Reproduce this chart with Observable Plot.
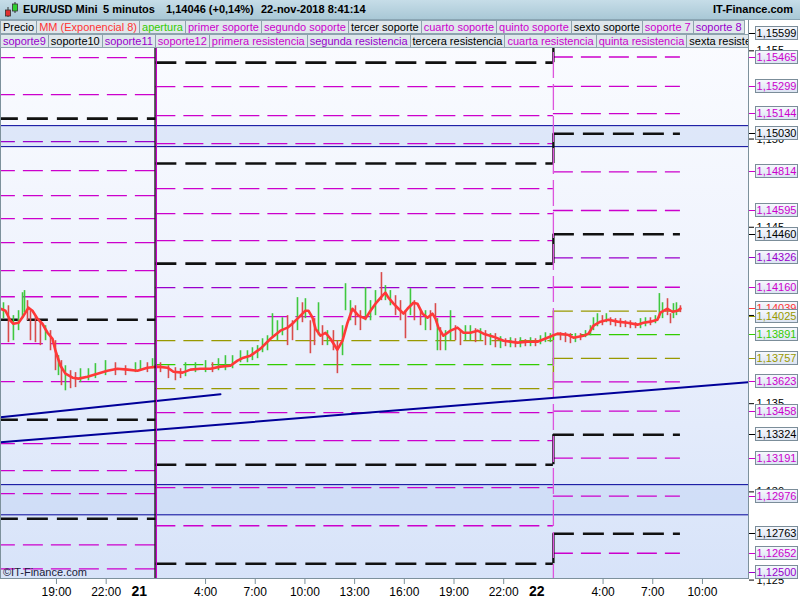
<!DOCTYPE html>
<html>
<head>
<meta charset="utf-8">
<script src="https://cdn.jsdelivr.net/npm/d3@7"></script>
<script src="https://cdn.jsdelivr.net/npm/@observablehq/plot@0.6"></script>
<style>
  html,body{margin:0;padding:0;background:#fff;}
  #wrap{position:relative;width:800px;height:600px;overflow:hidden;font-family:"Liberation Sans",Arial,sans-serif;background:#fff;}
  #bg{position:absolute;left:0;top:20px;width:748px;height:558px;background:linear-gradient(to bottom,#fbfcff 0%,#eff3fd 45%,#d7e3f9 100%);}
  #chart{position:absolute;left:0;top:20px;}
  #header{position:absolute;left:0;top:0;width:800px;height:20px;background:linear-gradient(to bottom,#c6dde8,#a9c8d6);border-bottom:1px solid #8aa5b3;box-sizing:border-box;}
  #header span{position:absolute;top:3px;font-size:11px;font-weight:bold;color:#000;white-space:nowrap;}
  .row{position:absolute;left:0;width:748px;height:14px;display:flex;overflow:hidden;background:#fff;}
  .row div{font-size:11px;line-height:12px;height:14px;box-sizing:border-box;padding:0 2px;border:1px solid #8ea3ae;border-left:none;background:#dfe7ec;white-space:nowrap;flex:none;}
  .row div:first-child{border-left:1px solid #8ea3ae;}
  .lab{position:absolute;left:755px;width:43px;height:14px;box-sizing:border-box;border:1px solid #7b8d99;background:linear-gradient(to bottom,#f6f8fd,#dce4f3);font-size:11px;line-height:12px;text-align:center;white-space:nowrap;}
  .ltick{position:absolute;left:749px;width:6px;height:1px;}
  #copy{position:absolute;left:3px;top:566px;font-size:11px;color:#1b1b3a;}
</style>
</head>
<body>
<div id="wrap">
  <div id="bg"></div>
  <div id="chart"></div>
  <div id="header">
    <svg style="position:absolute;left:4px;top:2px" width="16" height="16">
      <line x1="4" y1="5" x2="4" y2="15" stroke="#333"/><rect x="1.5" y="8" width="5" height="6" fill="#e03030" stroke="#333" stroke-width="0.8"/>
      <line x1="11" y1="0" x2="11" y2="11" stroke="#333"/><rect x="8.5" y="2" width="5" height="7" fill="#30d030" stroke="#333" stroke-width="0.8"/>
    </svg>
    <span style="left:23px">EUR/USD Mini</span>
    <span style="left:103px">5 minutos</span>
    <span style="left:166px">1,14046 (+0,14%)</span>
    <span style="left:261px">22-nov-2018 8:41:14</span>
    <span style="left:713px">IT-Finance.com</span>
  </div>
  <div class="row" id="row1" style="top:20px"></div>
  <div class="row" id="row2" style="top:34px"></div>
  <div id="copy">©IT-Finance.com</div>
</div>
<script>
// ---------- DATA ----------
// time: hours since 20-nov-2018 00:00
const viewStartHour = 15.62, viewEndHour = 60.78;
const sessionStartHours = [25.0, 49.0];   // level change (01:00)
const lastHour = 56.67;
const yDomain = [1.12509, 1.15672];

const hourTicks = [19, 22, 28, 31, 34, 37, 40, 43, 46, 52, 55, 58];
const hourTickLabels = ["19:00","22:00","4:00","7:00","10:00","13:00","16:00","19:00","22:00","4:00","7:00","10:00"];
const dayTicks = [24, 48];
const dayTickLabels = ["21", "22"];
const yTicks = [1.125, 1.130, 1.135, 1.140, 1.145, 1.150, 1.155];

const legendRow1 = ["Precio","MM (Exponencial 8)","apertura","primer soporte","segundo soporte","tercer soporte","cuarto soporte","quinto soporte","sexto soporte","soporte 7","soporte 8"];
const legendRow1Kind = ["k","r","g","m","m","k","m","m","k","m","p"];
const legendRow2 = ["soporte9","soporte10","soporte11","soporte12","primera resistencia","segunda resistencia","tercera resistencia","cuarta resistencia","quinta resistencia","sexta resistencia"];
const legendRow2Kind = ["p","k","p","m","m","p","k","m","m","k"];

// levels per session (k = black, m = magenta, p = purple, o = olive, g = apertura)
const levelsA = [1.15643,1.15462,1.15252,1.15116,1.14985,1.14821,1.14679,1.14549,1.14413,1.14254,1.14106,1.13976,1.13840,1.13625,1.13409,1.13273,1.13120,1.12990,1.12848,1.12700,1.12564];
const kindsA  = ["m","m","m","k","p","m","m","m","m","m","m","k","m","m","k","m","m","m","k","m","m"];
const levelsB = [1.15433,1.15297,1.15133,1.14974,1.14861,1.14719,1.14577,1.14424,1.14294,1.14158,1.13993,1.13857,1.13721,1.13585,1.13449,1.13290,1.13154,1.13024,1.12808,1.12593];
const kindsB  = ["k","m","m","m","k","m","m","m","k","p","m","o","g","o","m","m","k","m","m","k"];
const levelsC = [1.15599,1.15465,1.15299,1.15144,1.15030,1.14814,1.14595,1.14460,1.14326,1.14160,1.14025,1.13891,1.13757,1.13623,1.13458,1.13324,1.13191,1.12976,1.12763,1.12652,1.12500];
const kindsC  = ["k","m","m","m","k","m","m","k","p","m","o","g","o","m","m","k","m","m","k","m","p"];

// zones
const zoneLow  = [1.14957, 1.12870];
const zoneHigh = [1.15076, 1.13041];

// trend lines
const trend1Hours = [15.62, 28.90], trend1Values = [1.13423, 1.13554];
const trend2Hours = [15.62, 60.78], trend2Values = [1.13282, 1.13622];

// EMA 8
const emaHour = [15.62,15.92,16.22,16.40,16.71,17.01,17.31,17.55,17.85,18.15,18.46,18.76,18.94,19.24,19.54,19.97,20.33,20.87,21.47,22.08,22.68,23.29,23.89,24.49,25.10,25.70,26.06,26.61,27.09,27.69,28.30,28.90,29.50,29.93,30.29,30.71,31.32,31.92,32.52,32.95,33.31,33.73,34.03,34.21,34.46,34.64,34.94,35.24,35.54,35.96,36.27,36.57,36.87,37.23,37.65,37.96,38.26,38.68,38.86,39.04,39.35,39.65,39.95,40.25,40.55,40.79,41.10,41.40,41.70,41.88,42.06,42.36,42.79,43.21,43.57,43.99,44.42,44.78,45.38,45.99,46.83,47.44,48.04,48.64,49.25,49.85,50.21,50.82,51.12,51.42,51.84,52.32,52.87,53.47,54.08,54.44,54.86,55.28,55.46,55.89,56.19,56.49,56.67];
const emaValue = [1.14038,1.14027,1.13970,1.13953,1.13959,1.13999,1.14044,1.14027,1.13982,1.13953,1.13902,1.13868,1.13800,1.13715,1.13670,1.13647,1.13642,1.13653,1.13670,1.13687,1.13698,1.13693,1.13687,1.13704,1.13710,1.13704,1.13681,1.13676,1.13693,1.13698,1.13698,1.13710,1.13715,1.13744,1.13761,1.13772,1.13812,1.13868,1.13914,1.13931,1.13959,1.13999,1.14027,1.14027,1.13987,1.13925,1.13885,1.13902,1.13868,1.13806,1.13857,1.13959,1.14038,1.13999,1.13982,1.14027,1.14067,1.14112,1.14129,1.14101,1.14067,1.14038,1.14010,1.14044,1.14072,1.14067,1.14010,1.13987,1.14010,1.13982,1.13931,1.13885,1.13914,1.13931,1.13902,1.13902,1.13914,1.13897,1.13880,1.13857,1.13846,1.13851,1.13851,1.13874,1.13897,1.13891,1.13874,1.13885,1.13897,1.13942,1.13965,1.13976,1.13965,1.13959,1.13948,1.13959,1.13965,1.13976,1.14016,1.14038,1.14021,1.14027,1.14039];

// price bars
const barHour = [15.80,16.10,16.40,16.71,16.95,17.07,17.25,17.43,17.73,18.03,18.34,18.64,18.94,19.12,19.30,19.54,19.85,20.15,20.45,20.93,21.35,21.96,22.56,23.17,23.77,24.07,24.49,24.80,25.28,25.76,26.18,26.49,26.79,27.39,28.00,28.42,28.78,29.20,29.63,30.11,30.53,30.83,31.14,31.44,31.74,32.04,32.34,32.64,32.95,33.25,33.55,33.85,34.03,34.33,34.58,34.82,35.06,35.36,35.72,35.96,36.27,36.45,36.75,37.05,37.35,37.66,37.96,38.26,38.62,38.86,39.16,39.47,39.77,40.07,40.37,40.61,40.98,41.28,41.58,41.88,42.00,42.18,42.49,42.79,43.09,43.39,43.69,43.99,44.30,44.60,44.90,45.20,45.50,45.81,46.11,46.41,46.71,47.01,47.31,47.62,47.92,48.22,48.52,48.82,49.43,49.73,50.03,50.33,50.64,50.94,51.24,51.42,51.66,51.96,52.20,52.45,52.75,53.05,53.35,53.65,53.96,54.26,54.56,54.86,55.16,55.40,55.59,55.89,56.07,56.25,56.43,56.67];
const barHigh = [1.14072,1.14055,1.13999,1.14027,1.14129,1.14141,1.14084,1.14027,1.13999,1.13970,1.13942,1.13914,1.13857,1.13772,1.13744,1.13715,1.13687,1.13676,1.13698,1.13698,1.13727,1.13744,1.13732,1.13715,1.13732,1.13744,1.13732,1.13755,1.13732,1.13715,1.13704,1.13698,1.13732,1.13732,1.13744,1.13732,1.13755,1.13772,1.13772,1.13800,1.13800,1.13817,1.13829,1.13868,1.13885,1.14010,1.13970,1.13987,1.13999,1.13970,1.14101,1.14072,1.14095,1.13970,1.13982,1.14072,1.13942,1.13914,1.13914,1.13857,1.13942,1.14180,1.14084,1.14055,1.14027,1.14158,1.14084,1.14141,1.14243,1.14169,1.14141,1.14112,1.14084,1.14027,1.14152,1.14084,1.14027,1.14027,1.14027,1.14067,1.13982,1.13931,1.13914,1.14027,1.13942,1.13914,1.13942,1.13942,1.13925,1.13925,1.13914,1.13897,1.13897,1.13880,1.13868,1.13874,1.13868,1.13874,1.13863,1.13874,1.13868,1.13885,1.13902,1.13897,1.13902,1.13902,1.13897,1.13897,1.13897,1.13914,1.13942,1.13987,1.14010,1.13999,1.14010,1.13987,1.13982,1.13982,1.13970,1.13970,1.13959,1.13982,1.13987,1.13987,1.13999,1.14124,1.14072,1.14095,1.14010,1.14067,1.14072,1.14055];
const barLow = [1.13982,1.13846,1.13857,1.13914,1.13982,1.14016,1.13970,1.13857,1.13846,1.13829,1.13857,1.13800,1.13687,1.13659,1.13602,1.13573,1.13585,1.13591,1.13619,1.13630,1.13642,1.13659,1.13659,1.13659,1.13676,1.13687,1.13676,1.13698,1.13676,1.13642,1.13630,1.13642,1.13653,1.13676,1.13676,1.13676,1.13687,1.13687,1.13698,1.13732,1.13732,1.13744,1.13755,1.13789,1.13800,1.13874,1.13857,1.13885,1.13829,1.13857,1.13914,1.13959,1.13982,1.13783,1.13829,1.13885,1.13829,1.13829,1.13800,1.13670,1.13772,1.14027,1.13970,1.13942,1.13914,1.13970,1.13970,1.13999,1.14084,1.14084,1.14055,1.13999,1.13970,1.13868,1.13999,1.13970,1.13942,1.13914,1.13914,1.13982,1.13800,1.13800,1.13800,1.13857,1.13857,1.13829,1.13857,1.13857,1.13846,1.13857,1.13829,1.13829,1.13817,1.13812,1.13823,1.13817,1.13817,1.13817,1.13823,1.13823,1.13823,1.13834,1.13846,1.13846,1.13857,1.13846,1.13840,1.13846,1.13857,1.13874,1.13885,1.13914,1.13936,1.13942,1.13959,1.13942,1.13936,1.13931,1.13931,1.13925,1.13925,1.13925,1.13936,1.13942,1.13953,1.13982,1.13982,1.13999,1.13953,1.13982,1.13999,1.14016];
const barDir = ("uduuuudddd"+"uddududduu"+"uudduududd"+"dduuuduuuu"+"uuuuuuuudd"+"ududdududd"+"uuudduuudu"+"uddduddudd"+"uduudduudu"+"dududududu"+"duuudddudu"+"uuududdddd"+"duuduuuddu"+"ud").split("");

// ---------- RENDER ----------
const H0 = Date.UTC(2018, 10, 20);
const T = h => new Date(H0 + h * 3600e3);
const kindColor = {k:"#000000", m:"#cc00cc", p:"#9900cc", o:"#999900", g:"#33cc00", r:"#ff3333"};
const fmt = v => v.toFixed(5).replace(".", ",");

const segBounds = [[viewStartHour - 2, sessionStartHours[0]], [sessionStartHours[0], sessionStartHours[1]], [sessionStartHours[1], lastHour]];
const segLevels = [[levelsA, kindsA], [levelsB, kindsB], [levelsC, kindsC]];
const levelRows = [];
segLevels.forEach(([vals, kinds], s) => vals.forEach((v, i) => levelRows.push({x1: T(segBounds[s][0]), x2: T(segBounds[s][1]), y: v, kind: kinds[i]})));
const thinRows = levelRows.filter(d => d.kind !== "k");
const blackRows = levelRows.filter(d => d.kind === "k");

const conn = [];
["k","o","g"].forEach(k => {
  const b = levelsB.filter((v, i) => kindsB[i] === k), c = levelsC.filter((v, i) => kindsC[i] === k);
  for (let i = 0; i < Math.min(b.length, c.length); i++) conn.push({x: T(sessionStartHours[1]), y1: b[i], y2: c[i], kind: k});
});

const bars = barHour.map((h, i) => ({x: T(h), hi: barHigh[i], lo: barLow[i], dir: barDir[i]}));
const ema = emaHour.map((h, i) => ({x: T(h), y: emaValue[i]}));
const zones = zoneLow.map((v, i) => ({y1: v, y2: zoneHigh[i]}));
const trend1 = trend1Hours.map((h, i) => ({x: T(h), y: trend1Values[i]}));
const trend2 = trend2Hours.map((h, i) => ({x: T(h), y: trend2Values[i]}));
const tickLabel = new Map(hourTicks.map((h, i) => [+T(h), hourTickLabels[i]]));
const dayLabel = new Map(dayTicks.map((h, i) => [+T(h), dayTickLabels[i]]));

const plot = Plot.plot({
  width: 800, height: 580,
  marginTop: 0, marginRight: 52, marginBottom: 22, marginLeft: 0,
  style: {background: "transparent", fontFamily: "Liberation Sans, Arial, sans-serif", overflow: "visible"},
  x: {type: "utc", domain: [T(viewStartHour), T(viewEndHour)], label: null},
  y: {domain: yDomain, label: null},
  marks: [
    Plot.rect(zones, {x1: T(viewStartHour), x2: T(viewEndHour), y1: "y1", y2: "y2", fill: "#c2d2f4", fillOpacity: 0.45}),
    Plot.ruleY(zones.flatMap(z => [z.y1, z.y2]), {stroke: "#000099", strokeWidth: 1}),
    Plot.ruleY(thinRows, {x1: "x1", x2: "x2", y: "y", stroke: d => kindColor[d.kind], strokeWidth: 1.3, strokeDasharray: "20,8", clip: true}),
    Plot.ruleY(blackRows, {x1: "x1", x2: "x2", y: "y", stroke: "#111", strokeWidth: 2.6, strokeDasharray: "21,9", clip: true}),
    Plot.ruleX(conn, {x: "x", y1: "y1", y2: "y2", stroke: d => d.kind === "k" ? "#111" : kindColor[d.kind], strokeWidth: d => d.kind === "k" ? 2.4 : 1.5}),
    Plot.ruleX([T(sessionStartHours[1])], {stroke: "#dd55dd", strokeWidth: 1.3, strokeDasharray: "26,6"}),
    Plot.line(trend1, {x: "x", y: "y", stroke: "#000099", strokeWidth: 2, clip: true}),
    Plot.line(trend2, {x: "x", y: "y", stroke: "#000099", strokeWidth: 2, clip: true}),
    Plot.ruleX(bars, {x: "x", y1: "lo", y2: "hi", stroke: d => d.dir === "u" ? "#3fc83f" : "#d94b4b", strokeWidth: 1.6}),
    Plot.line(ema, {x: "x", y: "y", stroke: "#ff3838", strokeWidth: 2.6}),
    Plot.ruleX([T(sessionStartHours[0])], {stroke: "#111", strokeWidth: 1.4, dx: -0.8}),
    Plot.ruleX([T(sessionStartHours[0])], {stroke: "#cc00cc", strokeWidth: 1.1, dx: 0.6}),
    Plot.frame({stroke: "#7d919c"}),
    Plot.axisY({anchor: "right", ticks: yTicks, tickFormat: d => d.toFixed(3).replace(".", ","), tickSize: 5, tickPadding: 3, fontSize: 11, stroke: "#000", fill: "#000"}),
    Plot.axisX({ticks: hourTicks.map(T), tickFormat: d => tickLabel.get(+d), tickSize: 6, tickPadding: 3, fontSize: 12, stroke: "#7d919c", fill: "#000"}),
    Plot.axisX({ticks: dayTicks.map(T), tickFormat: d => dayLabel.get(+d), tickSize: 0, tickPadding: 8, fontSize: 14, fontWeight: "bold", fill: "#000"})
  ]
});
document.getElementById("chart").appendChild(plot);

function fillRow(id, names, kinds) {
  const row = document.getElementById(id);
  names.forEach((n, i) => { const d = document.createElement("div"); d.textContent = n; d.style.color = kindColor[kinds[i]]; row.appendChild(d); });
}
fillRow("row1", legendRow1, legendRow1Kind);
fillRow("row2", legendRow2, legendRow2Kind);

const ys = plot.scale("y");
const labels = levelsC.map((v, i) => ({v, kind: kindsC[i]}));
labels.push({v: emaValue[emaValue.length - 1], kind: "r"});
labels.sort((a, b) => b.v - a.v);
let prev = -Infinity;
const wrap = document.getElementById("wrap");
labels.forEach(l => {
  let y = ys.apply(l.v) + 20;
  if (y < prev + 8) y = prev + 8;
  if (y > 572) y = 572;
  prev = y;
  const t = document.createElement("div"); t.className = "ltick"; t.style.top = (Math.round(y)) + "px"; t.style.background = kindColor[l.kind]; wrap.appendChild(t);
  const b = document.createElement("div"); b.className = "lab"; b.style.top = (Math.round(y) - 7) + "px"; b.style.color = kindColor[l.kind]; b.textContent = fmt(l.v); wrap.appendChild(b);
});
</script>
</body>
</html>
